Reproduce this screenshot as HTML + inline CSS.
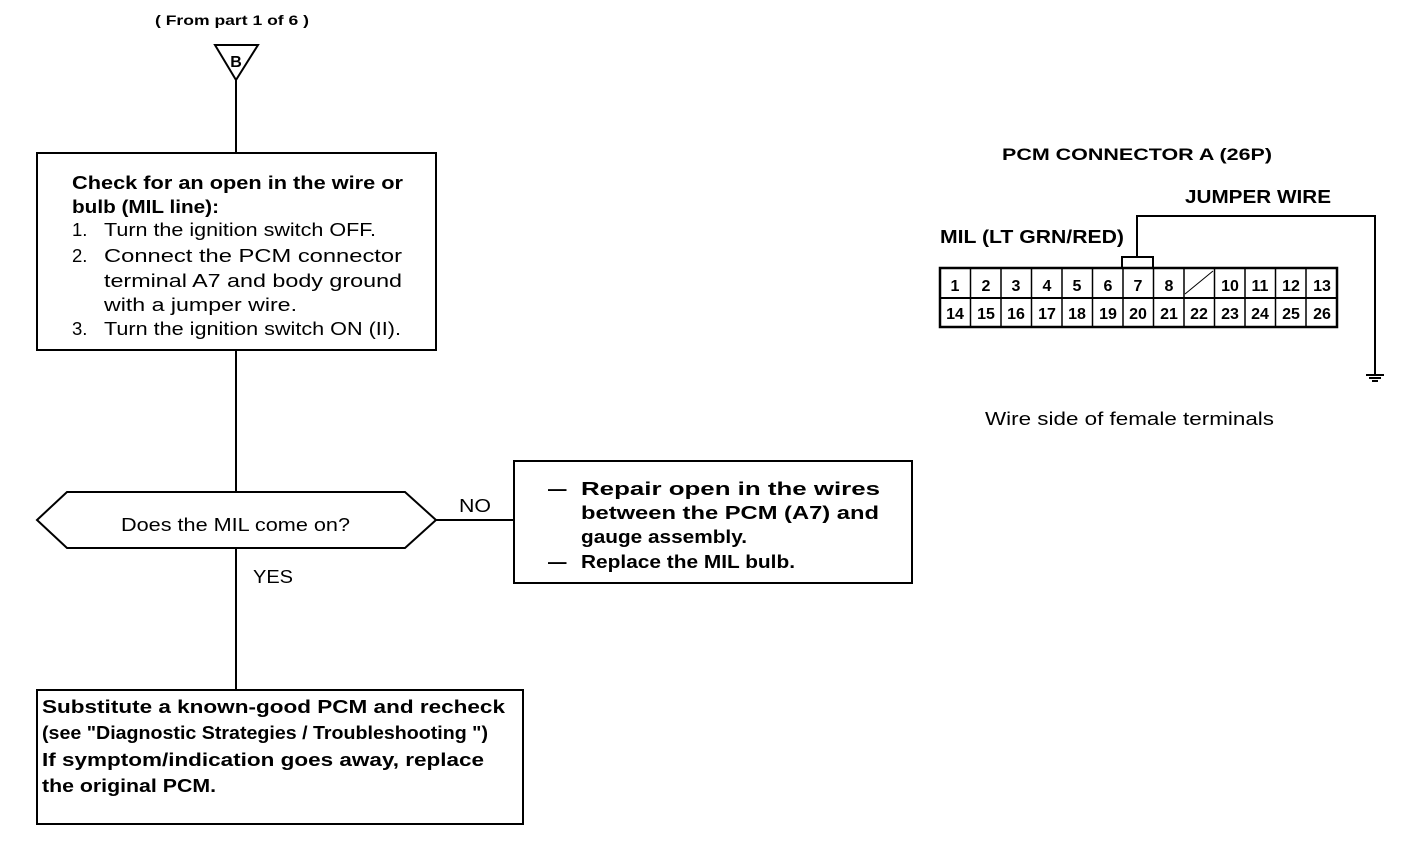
<!DOCTYPE html>
<html><head><meta charset="utf-8"><style>
html,body{margin:0;padding:0;background:#fff;}
svg{display:block}
text{font-family:"Liberation Sans",sans-serif;fill:#000;}
.b{font-weight:bold}
</style></head><body>
<svg width="1408" height="860" viewBox="0 0 1408 860" xmlns="http://www.w3.org/2000/svg">
<g fill="none" stroke="#000" stroke-width="2">
<polygon points="215,45 258,45 236,80"/>
<line x1="236" y1="80" x2="236" y2="153"/>
<rect x="37" y="153" width="399" height="197"/>
<line x1="236" y1="350" x2="236" y2="492"/>
<polygon points="37,520 67,492 405,492 436,520 405,548 67,548"/>
<line x1="436" y1="520" x2="514" y2="520"/>
<rect x="514" y="461" width="398" height="122"/>
<line x1="236" y1="548" x2="236" y2="690"/>
<rect x="37" y="690" width="486" height="134"/>
<rect x="940" y="268" width="397" height="59" stroke-width="2.5"/>
<line x1="940" y1="298" x2="1337" y2="298"/>
<polyline points="1122,268 1122,257 1153,257 1153,268"/>
<polyline points="1137,257 1137,216 1375,216 1375,375"/>
<line x1="1366" y1="375" x2="1384" y2="375"/>
<line x1="1369" y1="378" x2="1381" y2="378"/>
<line x1="1372" y1="381" x2="1378" y2="381"/>
<line x1="1185" y1="294" x2="1213" y2="271" stroke-width="1"/>
</g>
<g stroke="#000" stroke-width="1.5">
<line x1="970.5" y1="268" x2="970.5" y2="327"/><line x1="1001" y1="268" x2="1001" y2="327"/>
<line x1="1031.5" y1="268" x2="1031.5" y2="327"/><line x1="1062" y1="268" x2="1062" y2="327"/>
<line x1="1092.5" y1="268" x2="1092.5" y2="327"/><line x1="1123" y1="268" x2="1123" y2="327"/>
<line x1="1153.5" y1="268" x2="1153.5" y2="327"/><line x1="1184" y1="268" x2="1184" y2="327"/>
<line x1="1214.5" y1="268" x2="1214.5" y2="327"/><line x1="1245" y1="268" x2="1245" y2="327"/>
<line x1="1275.5" y1="268" x2="1275.5" y2="327"/><line x1="1306" y1="268" x2="1306" y2="327"/>
</g>
<g class="b" font-size="16" text-anchor="middle">
<text x="955" y="291">1</text><text x="986" y="291">2</text><text x="1016" y="291">3</text><text x="1047" y="291">4</text><text x="1077" y="291">5</text><text x="1108" y="291">6</text><text x="1138" y="291">7</text><text x="1169" y="291">8</text><text x="1230" y="291">10</text><text x="1260" y="291">11</text><text x="1291" y="291">12</text><text x="1322" y="291">13</text>
<text x="955" y="319">14</text><text x="986" y="319">15</text><text x="1016" y="319">16</text><text x="1047" y="319">17</text><text x="1077" y="319">18</text><text x="1108" y="319">19</text><text x="1138" y="319">20</text><text x="1169" y="319">21</text><text x="1199" y="319">22</text><text x="1230" y="319">23</text><text x="1260" y="319">24</text><text x="1291" y="319">25</text><text x="1322" y="319">26</text>
</g>
<text class="b" x="155" y="25" font-size="14" textLength="154" lengthAdjust="spacingAndGlyphs">( From part 1 of 6 )</text>
<text class="b" x="236" y="67" font-size="16" text-anchor="middle">B</text>
<g font-size="18.5" lengthAdjust="spacingAndGlyphs">
<text class="b" x="72" y="189" textLength="331" lengthAdjust="spacingAndGlyphs">Check for an open in the wire or</text>
<text class="b" x="72" y="213" textLength="147" lengthAdjust="spacingAndGlyphs">bulb (MIL line):</text>
<text x="72" y="236">1.</text><text x="104" y="236" textLength="272" lengthAdjust="spacingAndGlyphs">Turn the ignition switch OFF.</text>
<text x="72" y="262">2.</text><text x="104" y="262" textLength="298" lengthAdjust="spacingAndGlyphs">Connect the PCM connector</text>
<text x="104" y="287" textLength="298" lengthAdjust="spacingAndGlyphs">terminal A7 and body ground</text>
<text x="104" y="311" textLength="193" lengthAdjust="spacingAndGlyphs">with a jumper wire.</text>
<text x="72" y="335">3.</text><text x="104" y="335" textLength="297" lengthAdjust="spacingAndGlyphs">Turn the ignition switch ON (II).</text>
<text x="121" y="531" textLength="229" lengthAdjust="spacingAndGlyphs">Does the MIL come on?</text>
<text x="459" y="512" textLength="32" lengthAdjust="spacingAndGlyphs">NO</text>
<text x="253" y="583" textLength="40" lengthAdjust="spacingAndGlyphs">YES</text>
<text class="b" x="548" y="495">—</text><text class="b" x="581" y="495" textLength="299" lengthAdjust="spacingAndGlyphs">Repair open in the wires</text>
<text class="b" x="581" y="519" textLength="298" lengthAdjust="spacingAndGlyphs">between the PCM (A7) and</text>
<text class="b" x="581" y="543" textLength="166" lengthAdjust="spacingAndGlyphs">gauge assembly.</text>
<text class="b" x="548" y="568">—</text><text class="b" x="581" y="568" textLength="214" lengthAdjust="spacingAndGlyphs">Replace the MIL bulb.</text>
<text class="b" x="42" y="713" textLength="463" lengthAdjust="spacingAndGlyphs">Substitute a known-good PCM and recheck</text>
<text class="b" x="42" y="739" textLength="446" lengthAdjust="spacingAndGlyphs">(see "Diagnostic Strategies / Troubleshooting ")</text>
<text class="b" x="42" y="766" textLength="442" lengthAdjust="spacingAndGlyphs">If symptom/indication goes away, replace</text>
<text class="b" x="42" y="792" textLength="174" lengthAdjust="spacingAndGlyphs">the original PCM.</text>
<text class="b" x="1002" y="160" font-size="17" textLength="270" lengthAdjust="spacingAndGlyphs">PCM CONNECTOR A (26P)</text>
<text class="b" x="1185" y="203" font-size="18" textLength="146" lengthAdjust="spacingAndGlyphs">JUMPER WIRE</text>
<text class="b" x="940" y="243" font-size="18" textLength="184" lengthAdjust="spacingAndGlyphs">MIL (LT GRN/RED)</text>
<text x="985" y="425" textLength="289" lengthAdjust="spacingAndGlyphs">Wire side of female terminals</text>
</g>
</svg>
</body></html>
